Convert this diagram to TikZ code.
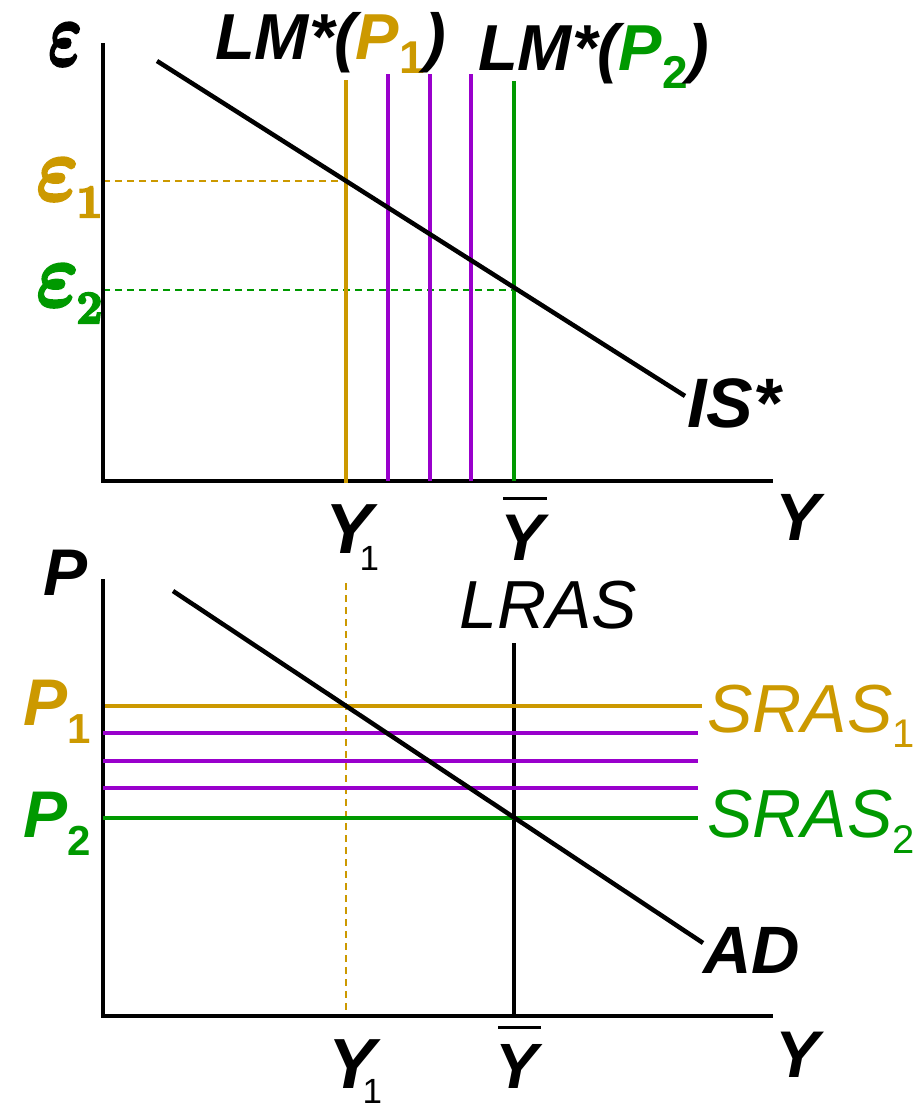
\RequirePackage{fix-cm}
\documentclass[tikz,border=0pt]{standalone}
\usepackage[no-math]{fontspec}
\setmainfont{Liberation Sans}
\usepackage{xcolor}
\definecolor{p1color}{RGB}{204, 153, 0}
\definecolor{p2color}{RGB}{0, 153, 0}
\definecolor{shiftcolor}{RGB}{153, 0, 204}
\newcommand{\labelsize}[1]{\fontsize{#1}{#1}\selectfont}
% heavier strokes for the epsilon labels
\newcommand{\heavy}[1]{\special{pdf:literal direct 2 Tr 2.2 w}#1\special{pdf:literal direct 0 Tr}}
\newcommand{\epsglyph}{\scalebox{1}[1.15]{\heavy{\boldmath$\varepsilon$}}}
\newcommand{\epslabel}[1]{{\labelsize{80}\epsglyph\kern-2pt\raisebox{-17pt}{\labelsize{46}\heavy{\boldmath$\mathbf{#1}$}}}}

\begin{document}
\begin{tikzpicture}[
    x=1pt, y=-1pt,
    % Line styles
    axis/.style={line width=4pt, line join=miter},
    curve/.style={line width=4.5pt},
    p1line/.style={line width=4.5pt, color=p1color},
    p2line/.style={line width=4.5pt, color=p2color},
    shiftline/.style={line width=4.5pt, color=shiftcolor},
    guide/.style={line width=2pt, dash pattern=on 7pt off 5pt},
    % Label style
    lab/.style={inner sep=0pt, anchor=base west},
]
\useasboundingbox (0,0) rectangle (918,1106);

% ---------------- Upper panel: IS*-LM* ----------------
% Guides
\draw [guide, p1color] (103,181) -- (346,181);
\draw [guide, p2color] (103,290) -- (514,290);

% Axes
\coordinate (topO) at (103,481);
\draw [axis] (103,43) -- (topO) -- (773,481);

% LM* curves
\draw [p1line] (346,80) -- (346,483);
\draw [shiftline] (388,74) -- (388,481);
\draw [shiftline] (430,74) -- (430,481);
\draw [shiftline] (471,74) -- (471,481);
\draw [p2line] (514,81) -- (514,481);

% IS* curve
\draw [curve] (157,61) -- (685,396);

% Labels
\node (eps) [lab] at (48,65) {\labelsize{80}\scalebox{0.8}[1]{\epsglyph}};
\node (eps1) [lab, text=p1color] at (36,200) {\epslabel{1}};
\node (eps2) [lab, text=p2color] at (36,306) {\epslabel{2}};
\node (lm1) [lab] at (215,59) {\labelsize{65}\bfseries\itshape LM*(\textcolor{p1color}{P\raisebox{-14pt}{\upshape\labelsize{46}1}})};
\node (lm2) [lab] at (478,70) {\labelsize{65}\bfseries\itshape LM*(\textcolor{p2color}{P\raisebox{-18pt}{\upshape\labelsize{46}2}})};
\node (is) [lab] at (687,427) {\labelsize{70}\bfseries\itshape IS*};
\node (ytop) [lab] at (775,540) {\labelsize{67}\bfseries\itshape Y};
\node (y1top) [lab] at (325,553) {\labelsize{71}\bfseries\itshape Y\kern-13pt\raisebox{-17pt}{\upshape\mdseries\labelsize{35}1}};
\node (ybartop) [lab] at (500,560) {\labelsize{66}\bfseries\itshape Y};
\draw [line width=3pt] ([xshift=3pt, yshift=16pt]ybartop.north west) -- ([xshift=3pt, yshift=16pt]ybartop.north east);

% ---------------- Lower panel: AD-AS ----------------
% Guide
\draw [guide, p1color] (346,583) -- (346,1016);

% Axes
\coordinate (botO) at (103,1016);
\draw [axis] (103,579) -- (botO) -- (773,1016);

% LRAS
\draw [curve] (514,643) -- (514,1016);

% SRAS curves
\draw [p1line] (105,706) -- (702,706);
\draw [shiftline] (103,733) -- (698,733);
\draw [shiftline] (103,761) -- (698,761);
\draw [shiftline] (103,788) -- (698,788);
\draw [p2line] (103,818) -- (698,818);

% AD curve
\draw [curve] (173,591) -- (703,943);

% Labels
\node (p) [lab] at (43,595) {\labelsize{66}\bfseries\itshape P};
\node (lras) [lab] at (459,628) {\labelsize{68}\itshape LRAS};
\node (p1) [lab, text=p1color] at (23,725) {\labelsize{66}\bfseries\itshape P\raisebox{-18pt}{\upshape\labelsize{42}1}};
\node (p2) [lab, text=p2color] at (23,837) {\labelsize{66}\bfseries\itshape P\raisebox{-18pt}{\upshape\labelsize{42}2}};
\node (sras1) [lab, text=p1color] at (707,732) {\labelsize{68}\itshape SRAS\raisebox{-15pt}{\upshape\labelsize{40}1}};
\node (sras2) [lab, text=p2color] at (707,837) {\labelsize{68}\itshape SRAS\raisebox{-16pt}{\upshape\labelsize{40}2}};
\node (ad) [lab] at (703,973) {\labelsize{67}\bfseries\itshape AD};
\node (ybot) [lab] at (775,1077) {\labelsize{66}\bfseries\itshape Y};
\node (y1bot) [lab] at (328,1088) {\labelsize{71}\bfseries\itshape Y\kern-13pt\raisebox{-15pt}{\upshape\mdseries\labelsize{35}1}};
\node (ybarbot) [lab] at (495,1088) {\labelsize{64}\bfseries\itshape Y};
\draw [line width=3pt] ([xshift=3pt, yshift=16pt]ybarbot.north west) -- ([xshift=3pt, yshift=16pt]ybarbot.north east);

\end{tikzpicture}
\end{document}
